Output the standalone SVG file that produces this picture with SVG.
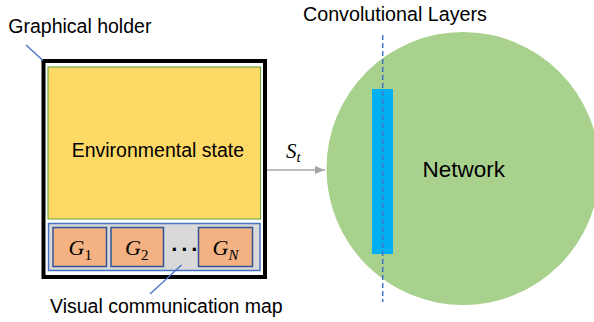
<svg xmlns="http://www.w3.org/2000/svg" width="594" height="322" viewBox="0 0 594 322">
<style>
.lbl{font-family:"Liberation Sans",Arial,sans-serif;font-size:19.5px;fill:#000}
.math{font-family:"Liberation Serif","Times New Roman",serif;font-style:italic;fill:#000}
.g{fill:#F4B183;stroke:#2F5597;stroke-width:1.5}
.lead{stroke:#4472C4;stroke-width:1.3;fill:none}
</style>
<defs>
<marker id="ah" markerWidth="10" markerHeight="8" refX="10" refY="4" orient="auto" markerUnits="userSpaceOnUse">
<path d="M0,0 L10,4 L0,8 Z" fill="#A6A6A6"/>
</marker>
</defs>
<rect width="594" height="322" fill="#fff"/>
<g id="network">
<circle cx="463" cy="168.5" r="136.5" fill="#A9D18E"/>
<rect x="372" y="89" width="21" height="165" fill="#00B0F0"/>
<line x1="382.7" y1="35" x2="382.7" y2="302" stroke="#4472C4" stroke-width="1.5" stroke-dasharray="5,3"/>
<text class="lbl" x="422.5" y="176.7" style="font-size:22.5px">Network</text>
</g>
<g id="conv-label">
<text class="lbl" x="303" y="20.5" style="font-size:19.7px">Convolutional Layers</text>
</g>
<g id="holder">
<rect x="43.5" y="61" width="221.5" height="216" fill="#fff" stroke="#000" stroke-width="4"/>
</g>
<g id="env">
<rect x="48" y="67" width="212.5" height="152" fill="#FFD966" stroke="#70AD47" stroke-width="1.2"/>
<text class="lbl" x="71.7" y="156.7">Environmental state</text>
</g>
<g id="comm-map">
<rect x="48.5" y="223.5" width="211.5" height="47" fill="#D9D9D9" stroke="#4472C4" stroke-width="1.5"/>
</g>
<g id="G1">
<rect class="g" x="53" y="227.5" width="53.5" height="39"/>
<text class="math" x="68.5" y="254.5" style="font-size:22px">G<tspan dy="5" style="font-size:15px;font-style:normal">1</tspan></text>
</g>
<g id="G2">
<rect class="g" x="111" y="227.5" width="52.5" height="39"/>
<text class="math" x="125" y="254.5" style="font-size:22px">G<tspan dy="5" style="font-size:15px;font-style:normal">2</tspan></text>
</g>
<g id="GN">
<rect class="g" x="198.5" y="227.5" width="54" height="39"/>
<text class="math" x="212.5" y="254.5" style="font-size:22px">G<tspan dy="5" style="font-size:15px">N</tspan></text>
</g>
<g id="dots">
<text x="175 185 195" y="257" text-anchor="middle" style="font-family:'Liberation Sans',Arial,sans-serif;font-size:22px;font-weight:bold">···</text>
</g>
<g id="labels">
<text class="lbl" x="8.3" y="33.3">Graphical holder</text>
<text class="lbl" x="50" y="313">Visual communication map</text>
<text class="math" x="286" y="157.7" style="font-size:21px">S<tspan dy="4" style="font-size:15px">t</tspan></text>
</g>
<g id="connectors">
<line x1="267" y1="170" x2="325" y2="170" stroke="#A6A6A6" stroke-width="1.5" marker-end="url(#ah)"/>
<line class="lead" x1="26" y1="45" x2="43" y2="60.5"/>
<line class="lead" x1="181.5" y1="265" x2="150" y2="294"/>
</g>
</svg>
